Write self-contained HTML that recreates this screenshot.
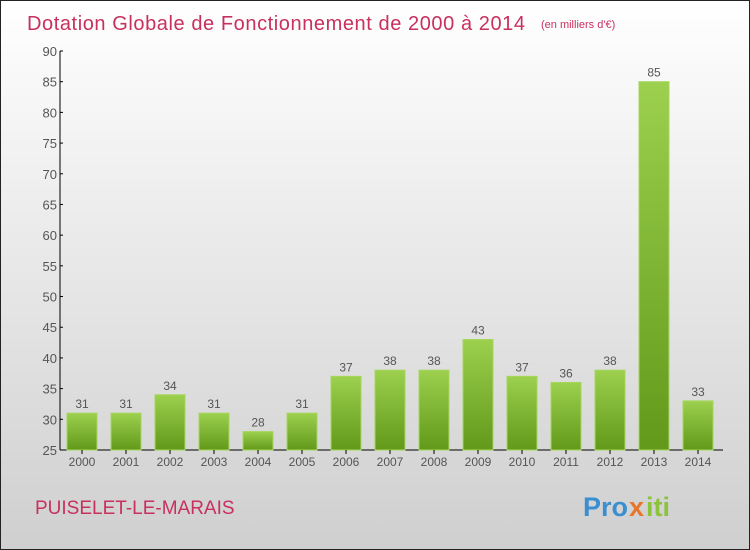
<!DOCTYPE html>
<html><head><meta charset="utf-8"><style>
body{margin:0}
#c{width:748px;height:548px;border:1px solid #222;background:linear-gradient(#fff,#cfcfcf);position:relative;font-family:"Liberation Sans",sans-serif;overflow:hidden}
</style></head><body>
<div id="c">
<svg width="748" height="548" xmlns="http://www.w3.org/2000/svg" id="svg">
<defs><linearGradient id="g" x1="0" y1="0" x2="0" y2="1"><stop offset="0" stop-color="#9cd04e"/><stop offset="1" stop-color="#62991a"/></linearGradient></defs>
<text x="26" y="29" font-size="20" fill="#c8305e" textLength="498">Dotation Globale de Fonctionnement de 2000 à 2014</text>
<text x="540" y="27" font-size="11" fill="#c8305e">(en milliers d'€)</text>
<text x="34" y="513" font-size="19" fill="#c8305e">PUISELET-LE-MARAIS</text>
<g font-size="27" font-weight="bold">
<text x="582" y="515" fill="#3a8fd0">Pro</text><text x="628" y="515" fill="#e8762a">x</text><text x="645" y="515" fill="#8bc43c">iti</text></g>
<g id="plot"></g>
</svg></div>
<script>
const categories=["2000","2001","2002","2003","2004","2005","2006","2007","2008","2009","2010","2011","2012","2013","2014"];
const values=[31,31,34,31,28,31,37,38,38,43,37,36,38,85,33];
const yTicks=[25,30,35,40,45,50,55,60,65,70,75,80,85,90];
const yMin=25,yMax=90,y0=449,y1=50,x0=59;
const y=v=>y0-(v-yMin)/(yMax-yMin)*(y0-y1);
const xc=i=>81+i*44;
const NS="http://www.w3.org/2000/svg",p=document.getElementById('plot');
function mk(t,a,txt){const e=document.createElementNS(NS,t);for(const k in a)e.setAttribute(k,a[k]);if(txt!==undefined)e.textContent=txt;p.appendChild(e);return e;}
let e=mk('line',{x1:x0,y1:y1,x2:x0,y2:y0,stroke:'#000'});


e=mk('line',{x1:x0,y1:y0,x2:722,y2:y0,stroke:'#000'});


yTicks.forEach(t=>{
 e=mk('line',{x1:x0,y1:y(t),x2:x0+3,y2:y(t),stroke:'#000'});
 
 
 e=mk('text',{x:x0-3,y:y(t)+5,'font-size':13,fill:'#555','text-anchor':'end'},t);
 
 
});
categories.forEach((c,i)=>{
 const v=values[i];
 e=mk('rect',{x:xc(i)-15,y:y(v),width:30,height:y0-y(v),fill:'url(#g)',stroke:'#a6d65c','stroke-width':1});
 
 
 e=mk('text',{x:xc(i),y:y(v)-5,'font-size':12,fill:'#555','text-anchor':'middle'},v);
 
 
 e=mk('line',{x1:xc(i),y1:y0,x2:xc(i),y2:y0+4,stroke:'#000'});
 
 
 e=mk('text',{x:xc(i),y:y0+16,'font-size':12,fill:'#555','text-anchor':'middle'},c);
 
 
});
</script>
</body></html>
